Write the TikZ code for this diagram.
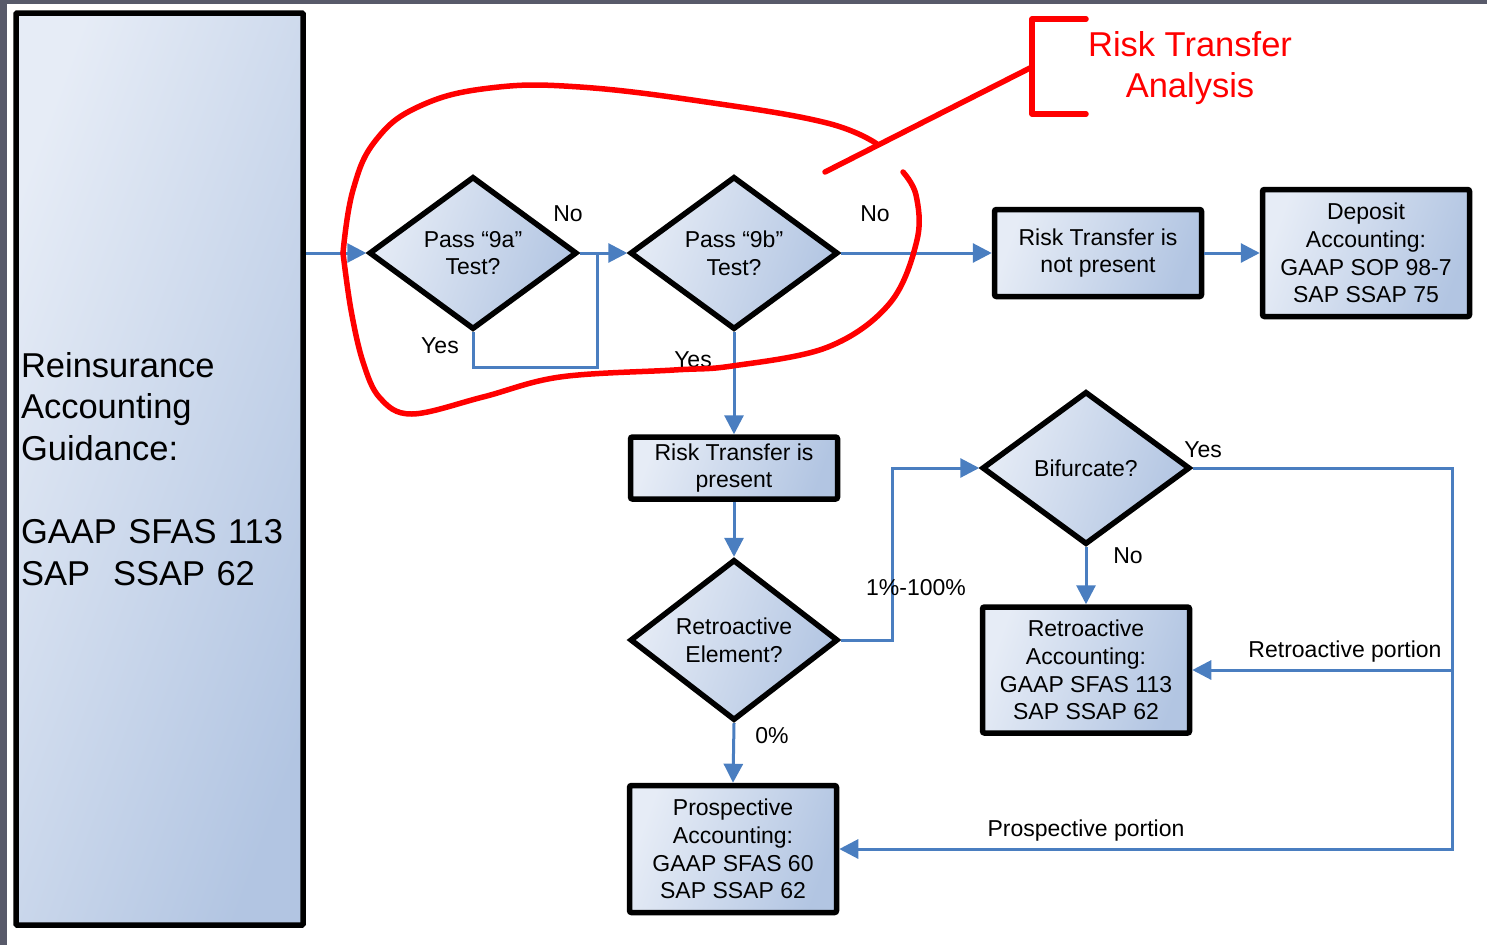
\documentclass[tikz,border=0pt]{standalone}
\usepackage{fontspec}
\setmainfont{Liberation Sans}
\usetikzlibrary{arrows.meta,shapes.geometric,positioning}
\definecolor{fillA}{RGB}{230,236,246}
\definecolor{fillB}{RGB}{178,197,226}
\definecolor{flowblue}{RGB}{74,126,192}
\definecolor{markred}{RGB}{255,0,0}
\definecolor{framegray}{RGB}{88,90,106}
\newcommand{\boxfont}{\fontsize{23}{27.7}\selectfont}
\newcommand{\bigfont}{\fontsize{34.5}{41.6}\selectfont}

\begin{document}
\begin{tikzpicture}[x=1pt, y=-1pt,
    >={Triangle[length=19pt,width=19pt]},
    box/.style={draw=black, line width=5.5pt, rounded corners=2pt,
      left color=fillA, right color=fillB, shading angle=70,
      align=center, font=\boxfont, inner sep=2pt, minimum width=207pt},
    decision/.style={diamond, draw=black, line width=5.5pt,
      left color=fillA, right color=fillB, shading angle=70,
      minimum width=208pt, minimum height=153pt, inner sep=0pt,
      align=center, font=\boxfont},
    flow/.style={flowblue, line width=3pt},
    lbl/.style={font=\boxfont, inner sep=0pt},
    redmark/.style={markred, line width=5.5pt, line cap=round, line join=round}]

  \useasboundingbox (0,0) rectangle (1487,945);

  % ============================================================
  % FRAME
  % ============================================================
  \fill[framegray] (0,0) rectangle (1487,4);
  \fill[framegray] (0,0) rectangle (7,945);

  % ============================================================
  % GUIDANCE PANEL (left)
  % ============================================================
  \node[box, minimum width=287pt, minimum height=912pt, text width=277pt,
        inner xsep=5pt, align=left, font=\bigfont, rounded corners=1pt]
    (guide) at (159.5,469) {%
    Reinsurance\\
    Accounting\\
    Guidance:\\[41.6pt]
    GAAP SFAS 113\\
    SAP\ \ SSAP 62};

  % ============================================================
  % RISK TRANSFER TESTS
  % ============================================================
  \node[decision] (test9a) at (473,253) {Pass “9a”\\Test?};
  \node[decision] (test9b) at (734,253) {Pass “9b”\\Test?};

  \node[box, minimum height=87pt] (nortr) at (1098,253)
    {Risk Transfer is\\not present};
  \node[box, minimum height=127pt] (deposit) at (1366,253)
    {Deposit\\Accounting:\\GAAP SOP 98-7\\SAP SSAP 75};

  \node[box, minimum height=62pt] (yesrtr) at (734,468)
    {Risk Transfer is\\present};

  % ============================================================
  % RETROACTIVE / PROSPECTIVE
  % ============================================================
  \node[decision] (retroel) at (734,640) {Retroactive\\Element?};
  \node[decision] (bifurc) at (1086,468) {Bifurcate?};

  \node[box, minimum height=126pt] (retroacc) at (1086,670)
    {Retroactive\\Accounting:\\GAAP SFAS 113\\SAP SSAP 62};
  \node[box, minimum height=127pt] (prospacc) at (733,849)
    {Prospective\\Accounting:\\GAAP SFAS 60\\SAP SSAP 62};

  % Join points
  \coordinate (join9a) at (597,253);
  \coordinate (joinport) at (1452,670);

  % Connectors
  \draw[flow, ->] (guide.east |- test9a.west) -- (test9a.west);
  \draw[flow, ->] (test9a.east) -- (test9b.west);
  \draw[flow] (test9a.south) -- ++(0,35) -| (join9a);
  \draw[flow, ->] (test9b.east) -- (nortr.west);
  \draw[flow, ->] (nortr.east) -- (deposit.west);
  \draw[flow, ->] (test9b.south) -- (yesrtr.north);
  \draw[flow, ->] (yesrtr.south) -- (retroel.north);
  \draw[flow, ->] (retroel.east) -- ++(52,0) |- (bifurc.west);
  \draw[flow, ->] (retroel.south) -- (prospacc.north);
  \draw[flow, ->] (bifurc.south) -- (retroacc.north);
  \draw[flow, ->] (bifurc.east) -| (joinport) |- (prospacc.east);
  \draw[flow, ->] (joinport) -- (retroacc.east);

  % Labels
  \node[lbl] (no9a) at (568,214) {No};
  \node[lbl] (yes9a) at (440,346) {Yes};
  \node[lbl] (no9b) at (875,214) {No};
  \node[lbl] (yes9b) at (693,360) {Yes};
  \node[lbl] (partial) at (916,588) {1\%-100\%};
  \node[lbl] (zeropct) at (772,736) {0\%};
  \node[lbl] (nobif) at (1128,556) {No};
  \node[lbl] (yesbif) at (1203,450) {Yes};
  \node[lbl] (retroport) at (1345,652) {Retroactive portion};
  \node[lbl] (prospport) at (1086,831) {Prospective portion};

  % ============================================================
  % RED ANNOTATION
  % ============================================================
  \node[markred, font=\bigfont, align=center, inner sep=0pt]
    (rtanalysis) at (1190,68) {Risk Transfer\\Analysis};

  \coordinate (bracketmid) at (1032,67);
  \draw[redmark] (1086,19) -- (1032,19) -- (1032,114) -- (1086,114);
  \draw[redmark] (bracketmid) -- (825,172);

  % hand-drawn loop
  \draw[redmark] plot[smooth, tension=0.7] coordinates {(877,144) (827,123)
    (713,103) (580,87) (490,88) (420,106) (376,140) (353,190) (343,253)};
  \draw[redmark] plot[smooth, tension=0.6] coordinates {(343,253) (351,310)
    (363,362) (380,398) (412,414) (483,397) (560,377) (674,370) (732,366)
    (828,347) (890,303) (917,240) (916,195) (903,172)};

\end{tikzpicture}
\end{document}
